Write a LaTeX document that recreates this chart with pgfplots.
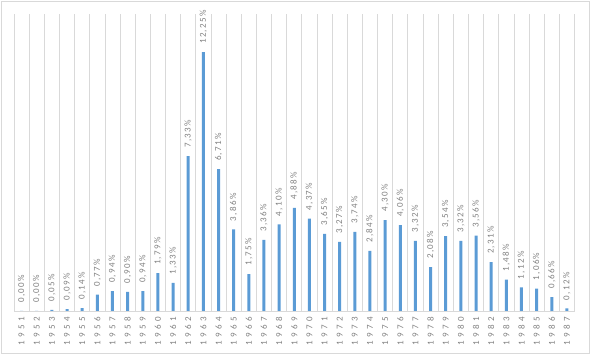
\documentclass[border=0pt]{standalone}
\usepackage{fontspec}
\setmainfont{Carlito}
\newfontfamily\yearfont{Carlito}[LetterSpace=36]
\newfontfamily\labfont{Carlito}[LetterSpace=15]
\usepackage{pgfplots}
\pgfplotsset{compat=1.18}
\definecolor{barblue}{HTML}{5B9BD5}
\definecolor{gridgray}{HTML}{D9D9D9}
\definecolor{txtgray}{HTML}{808080}
\begin{document}
\begin{tikzpicture}
\useasboundingbox (0,0) rectangle (590pt,356pt);
\draw[gridgray, line width=0.75pt] (1pt,3pt) rectangle (589pt,355pt);
\begin{axis}[
 at={(14pt,45pt)}, anchor=south west, scale only axis, width=560.5pt, height=297pt,
 xmin=-0.5, xmax=36.5, ymin=0, ymax=14.05,
 axis x line*=bottom, axis y line=none,
 x axis line style={gridgray, line width=0.75pt},
 xtick={0,...,36},
 xticklabels={1951,1952,1953,1954,1955,1956,1957,1958,1959,1960,1961,1962,1963,1964,1965,1966,1967,1968,1969,1970,1971,1972,1973,1974,1975,1976,1977,1978,1979,1980,1981,1982,1983,1984,1985,1986,1987},
 major tick length=0pt, minor tick length=0pt,
 minor xtick={-0.5,0.5,...,36.5},
 xminorgrids=true, minor grid style={gridgray, line width=0.75pt},
 xticklabel style={rotate=90, anchor=east, inner xsep=6pt, inner ysep=0pt, font=\yearfont\fontsize{9}{10}\selectfont, text=txtgray},
 ybar, bar width=3pt,
 nodes near coords={\pgfmathprintnumber[fixed,zerofill,precision=2,use comma]{\pgfplotspointmeta}\%},
 every node near coord/.append style={rotate=90, anchor=west, inner xsep=8pt, inner ysep=0pt, font=\labfont\fontsize{9}{10}\selectfont, text=txtgray},
 /pgf/number format/assume math mode=true,
]
\addplot[fill=barblue, draw=none] coordinates {
(0,0.00) (1,0.00) (2,0.05) (3,0.09) (4,0.14) (5,0.77) (6,0.94) (7,0.90) (8,0.94) (9,1.79)
(10,1.33) (11,7.33) (12,12.25) (13,6.71) (14,3.86) (15,1.75) (16,3.36) (17,4.10) (18,4.88) (19,4.37)
(20,3.65) (21,3.27) (22,3.74) (23,2.84) (24,4.30) (25,4.06) (26,3.32) (27,2.08) (28,3.54) (29,3.32)
(30,3.56) (31,2.31) (32,1.48) (33,1.12) (34,1.06) (35,0.66) (36,0.12)
};
\end{axis}
\end{tikzpicture}
\end{document}
